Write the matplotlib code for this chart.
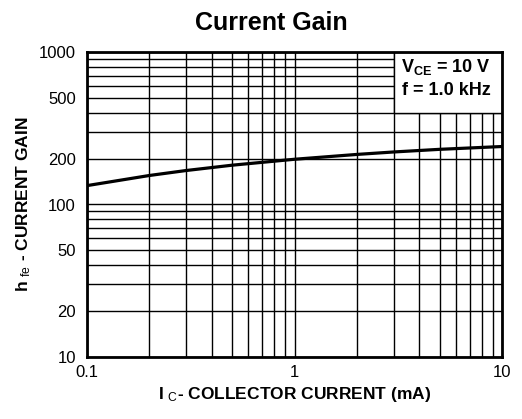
import numpy as np
import matplotlib
matplotlib.use('Agg')
import matplotlib.pyplot as plt
from matplotlib.patches import Rectangle
from matplotlib.ticker import FixedLocator, NullFormatter

plt.rcParams['font.family'] = ['Liberation Sans', 'DejaVu Sans']
plt.rcParams['mathtext.fontset'] = 'custom'
plt.rcParams['mathtext.rm'] = 'Liberation Sans'
plt.rcParams['mathtext.bf'] = 'Liberation Sans:bold'
plt.rcParams['mathtext.it'] = 'Liberation Sans:italic'

# collector current (mA) and current gain
ic = [0.1, 0.2, 0.3, 0.5, 1, 2, 3, 5, 10]
hfe = [133, 155, 167, 181, 198, 213, 221, 230, 240]

x_major = [0.1, 1, 10]
x_labels = ['0.1', '1', '10']
x_minor = [0.2, 0.3, 0.4, 0.5, 0.6, 0.7, 0.8, 0.9, 2, 3, 4, 5, 6, 7, 8, 9]
y_major = [10, 20, 50, 100, 200, 500, 1000]
y_labels = ['10', '20', '50', '100', '200', '500', '1000']
y_minor = [30, 40, 60, 70, 80, 90, 300, 400, 600, 700, 800, 900]

fig = plt.figure(figsize=(5.22, 4.19), dpi=100)
ax = fig.add_axes([87/522, 1-357/419, 415/522, 305/419])
ax.set_xscale('log')
ax.set_yscale('log')
ax.set_xlim(0.1, 10)
ax.set_ylim(10, 1000)

ax.xaxis.set_major_locator(FixedLocator(x_major))
ax.xaxis.set_minor_locator(FixedLocator(x_minor))
ax.yaxis.set_major_locator(FixedLocator(y_major))
ax.yaxis.set_minor_locator(FixedLocator(y_minor))
ax.set_xticklabels(x_labels)
ax.set_yticklabels(y_labels)
ax.xaxis.set_minor_formatter(NullFormatter())
ax.yaxis.set_minor_formatter(NullFormatter())
ax.tick_params(which='both', length=0, labelsize=12)
ax.tick_params(axis='x', pad=6)
ax.tick_params(axis='y', pad=8)

ax.set_axisbelow(True)
ax.grid(which='both', color='black', linewidth=1.0)
for s in ax.spines.values():
    s.set_linewidth(2)

# condition box in the upper right
ax.add_patch(Rectangle((3, 400), 7, 600, facecolor='white', edgecolor='black',
                       linewidth=1.0, zorder=1))
ax.text(0.865, 0.985, 'V$_{\\mathbf{CE}}$ = 10 V\nf = 1.0 kHz', transform=ax.transAxes,
        ha='center', va='top', fontsize=13, fontweight='bold', linespacing=1.45, zorder=3)

ax.plot(ic, hfe, color='black', linewidth=2.3, zorder=2)

ax.set_xlabel('I $_{\\mathrm{C}}$- COLLECTOR CURRENT (mA)', fontsize=12.5, fontweight='bold', labelpad=3)
ax.set_ylabel('h $_{\\mathrm{fe}}$ - CURRENT GAIN', fontsize=12.5, fontweight='bold', labelpad=4)

fig.text(271/522, 1-30/419, 'Current Gain', ha='center', va='baseline',
         fontsize=18, fontweight='bold')

plt.savefig('out.png', dpi=100)
